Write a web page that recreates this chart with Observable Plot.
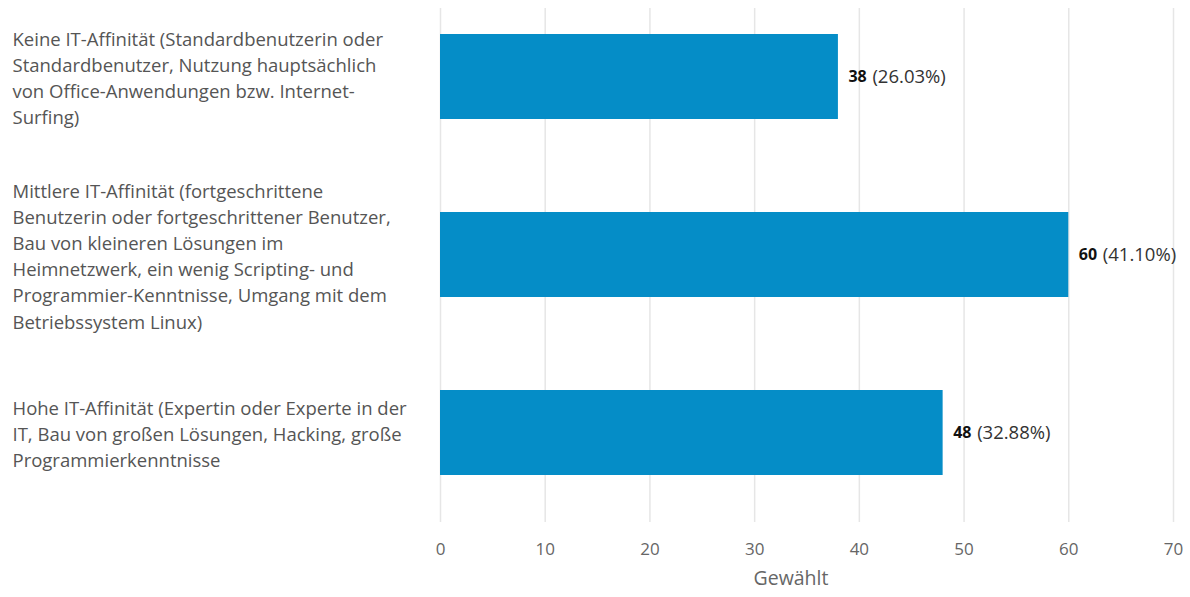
<!DOCTYPE html>
<html><head><meta charset="utf-8">
<script src="https://cdn.jsdelivr.net/npm/d3@7"></script>
<script src="https://cdn.jsdelivr.net/npm/@observablehq/plot@0.6"></script>
<style>
html,body{margin:0;padding:0;background:#fff;}
svg{font-family:"Open Sans",sans-serif;}
</style>
</head><body>
<div id="chart"></div>
<script>
const categories = [
  "Keine IT-Affinität (Standardbenutzerin oder\nStandardbenutzer, Nutzung hauptsächlich\nvon Office-Anwendungen bzw. Internet-\nSurfing)",
  "Mittlere IT-Affinität (fortgeschrittene\nBenutzerin oder fortgeschrittener Benutzer,\nBau von kleineren Lösungen im\nHeimnetzwerk, ein wenig Scripting- und\nProgrammier-Kenntnisse, Umgang mit dem\nBetriebssystem Linux)",
  "Hohe IT-Affinität (Expertin oder Experte in der\nIT, Bau von großen Lösungen, Hacking, große\nProgrammierkenntnisse"
];
const counts = [38, 60, 48];
const percents = ["26.03%", "41.10%", "32.88%"];
const xTicks = [0, 10, 20, 30, 40, 50, 60, 70];
const xLabel = "Gewählt";

const data = categories.map((c, i) => ({cat: c, n: counts[i], pct: "(" + percents[i] + ")"}));

const chart = Plot.plot({
  width: 1190,
  height: 597,
  marginLeft: 440,
  marginRight: 17,
  marginTop: 8,
  marginBottom: 75,
  style: {fontFamily: "'Open Sans', sans-serif", fontSize: "15px", color: "#666"},
  x: {domain: [0, 70], ticks: xTicks},
  y: {domain: categories, paddingInner: 0.525, paddingOuter: 0.2, align: 0.35, axis: null},
  marks: [
    Plot.gridX(xTicks, {stroke: "#e6e6e6", strokeOpacity: 1, strokeWidth: 1.5}),
    Plot.barX(data, {x: "n", y: "cat", fill: "#058dc7"}),
    Plot.axisX(xTicks, {tickSize: 0, tickPadding: 20, label: null, fill: "#666", fontSize: 17}),
    Plot.text([xLabel], {frameAnchor: "bottom", dy: 62, dx: -16, fill: "#666", fontSize: 19.5}),
    Plot.text(data, {y: "cat", text: "cat", frameAnchor: "left", textAnchor: "start", dx: -428, lineHeight: 1.41, fill: "#555", fontSize: 18.5}),
    Plot.text(data, {x: "n", y: "cat", text: d => String(d.n), textAnchor: "start", dx: 10, fontWeight: "bold", fill: "#111", fontSize: 16}),
    Plot.text(data, {x: "n", y: "cat", text: "pct", textAnchor: "start", dx: 34, fill: "#333", fontSize: 18.5})
  ]
});
document.getElementById("chart").appendChild(chart);
</script>
</body></html>
